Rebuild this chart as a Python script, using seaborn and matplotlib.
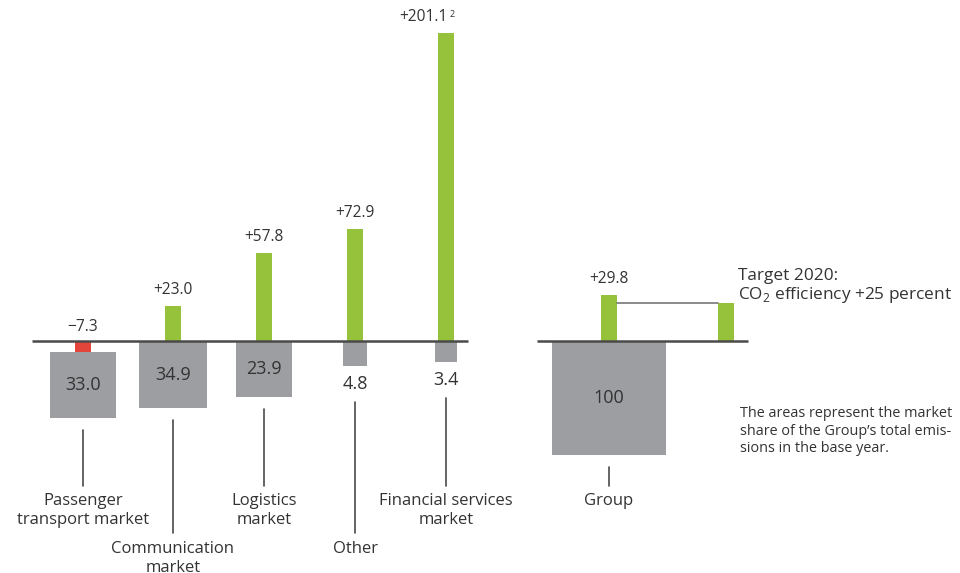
import numpy as np
import pandas as pd
import matplotlib
matplotlib.use("Agg")
import matplotlib.pyplot as plt
import seaborn as sns

# --- data ---------------------------------------------------------------
categories = ["Passenger\ntransport market", "Communication\nmarket",
              "Logistics\nmarket", "Other", "Financial services\nmarket", "Group"]
change_pct = [-7.3, 23.0, 57.8, 72.9, 201.1, 29.8]      # CO2 efficiency change
change_labels = ["\u22127.3", "+23.0", "+57.8", "+72.9", "+201.1", "+29.8"]
share_pct = [33.0, 34.9, 23.9, 4.8, 3.4, 100.0]          # share of base-year emissions
share_labels = ["33.0", "34.9", "23.9", "4.8", "3.4", "100"]
target_value = 25.0
target_label = "Target 2020:\nCO$_2$ efficiency +25 percent"
note_text = ("The areas represent the market\nshare of the Group\u2019s total emis-\n"
             "sions in the base year.")

# --- layout -------------------------------------------------------------
W, H = 960, 573
BASE = 341            # baseline, px from top
PX_PER_UNIT = 1.53    # vertical scale of the change bars
SQ_SCALE = 11.4       # side of a share square = SQ_SCALE * sqrt(share) px
centers = [83, 173, 264, 355, 446, 609]
target_x = 726
label_top = [489, 537, 489, 537, 489, 489]
leader_end = [486, 533, 486, 533, 486, 486]

GREEN = "#95c13b"
RED = "#e3453a"
GREY = "#9d9ea2"
TEXT = "#333333"
LINE = "#4a4a4a"
FONT = ["Open Sans", "DejaVu Sans"]

sns.set_theme(style="white")
plt.rcParams["font.family"] = FONT
plt.rcParams["mathtext.fontset"] = "custom"
plt.rcParams["mathtext.rm"] = "Open Sans"

fig = plt.figure(figsize=(W / 100, H / 100), dpi=100)
ax = fig.add_axes([0, 0, 1, 1])
ax.set_xlim(0, W)


def to_y(px_from_top):
    """Convert a pixel row (from the top) to value units on the y axis."""
    return (BASE - px_from_top) / PX_PER_UNIT


# change bars through seaborn, positioned on a native numeric x scale
bars = pd.DataFrame({
    "pos": centers + [target_x],
    "change": change_pct + [target_value],
    "kind": ["down" if v < 0 else "up" for v in change_pct] + ["up"],
})
sns.barplot(data=bars, x="pos", y="change", hue="kind", native_scale=True,
            palette={"up": GREEN, "down": RED}, width=16 / 90, saturation=1,
            legend=False, ax=ax, linewidth=0)
ax.set_xlim(0, W)
ax.set_ylim(to_y(H), to_y(0))

# share squares below the baseline (area proportional to share)
for cx, share, chg in zip(centers, share_pct, change_pct):
    side_px = SQ_SCALE * np.sqrt(share)
    top = min(chg, 0)
    ax.bar(cx, -side_px / PX_PER_UNIT, bottom=top, width=side_px,
           color=GREY, linewidth=0, zorder=2)

# baselines
ax.plot([32, 468], [0, 0], color=LINE, lw=1.8, zorder=3, solid_capstyle="butt")
ax.plot([537, 748], [0, 0], color=LINE, lw=1.8, zorder=3, solid_capstyle="butt")

# connector from the group bar to the target bar
ax.plot([centers[-1] + 8, target_x - 8], [target_value, target_value],
        color="#777777", lw=1.2, zorder=1)

# change labels above the bars (the largest one carries a footnote mark)
renderer = fig.canvas.get_renderer()
for i, (cx, chg, lab) in enumerate(zip(centers, change_pct, change_labels)):
    y = max(chg, 0) + 8 / PX_PER_UNIT
    if chg < 0:
        y = 6 / PX_PER_UNIT
    if i == 4:
        t = ax.text(cx + 2, y, lab, ha="right", va="bottom", fontsize=11.2,
                    color=TEXT)
        right_px = t.get_window_extent(renderer).x1
        x_sup = ax.transData.inverted().transform((right_px + 2, 0))[0]
        ax.text(x_sup, y + 6 / PX_PER_UNIT, "2", ha="left", va="bottom",
                fontsize=6.5, color=TEXT)
    else:
        ax.text(cx, y, lab, ha="center", va="bottom", fontsize=11.2, color=TEXT)

# share labels, inside the square or just below it when it is too small
for cx, share, chg, lab in zip(centers, share_pct, change_pct, share_labels):
    side_px = SQ_SCALE * np.sqrt(share)
    top_px = BASE - min(chg, 0) * PX_PER_UNIT
    if side_px > 40:
        y = to_y(top_px + side_px / 2)
        va = "center"
    else:
        y = to_y(top_px + side_px + 9)
        va = "top"
    ax.text(cx, y, lab, ha="center", va=va, fontsize=13, color=TEXT)

# leader lines and category labels
for cx, share, chg, lab, lt, le in zip(centers, share_pct, change_pct,
                                       categories, label_top, leader_end):
    side_px = SQ_SCALE * np.sqrt(share)
    top_px = BASE - min(chg, 0) * PX_PER_UNIT
    start = top_px + side_px + (12 if side_px > 40 else 36)
    ax.plot([cx, cx], [to_y(start), to_y(le)], color=LINE, lw=1.2)
    ax.text(cx, to_y(lt + 4), lab, ha="center", va="top", fontsize=12,
            color=TEXT, linespacing=1.25)

# target annotation and explanatory note
ax.text(738, to_y(268), target_label, ha="left", va="top", fontsize=12.4,
        color=TEXT, linespacing=1.1)
ax.text(740, to_y(406), note_text, ha="left", va="top", fontsize=10.4,
        color=TEXT, linespacing=1.25)

ax.set_axis_off()

fig.savefig("out.png", dpi=100)
